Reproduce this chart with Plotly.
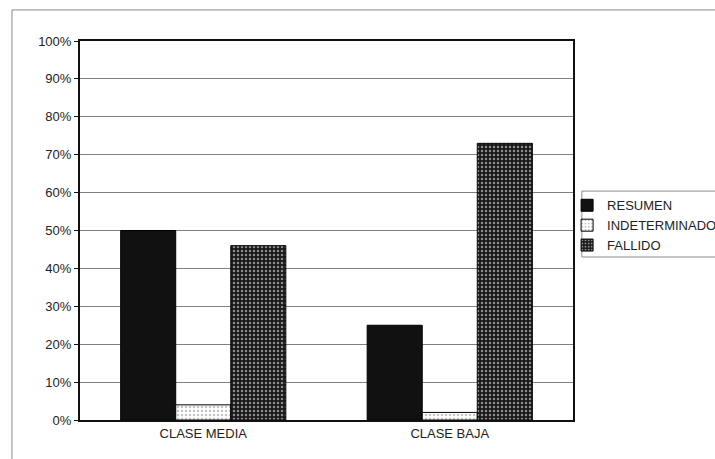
import plotly.graph_objects as go

categories = ["CLASE MEDIA", "CLASE BAJA"]
resumen = [50, 25]
indeterminado = [4, 2]
fallido = [46, 73]
tick_vals = [0, 10, 20, 30, 40, 50, 60, 70, 80, 90, 100]
tick_text = [f"{v}%" for v in tick_vals]

fig = go.Figure()
fig.add_trace(go.Bar(
    x=categories, y=resumen, name="RESUMEN",
    marker=dict(color="#111111", line=dict(color="#000000", width=1)),
))
fig.add_trace(go.Bar(
    x=categories, y=indeterminado, name="INDETERMINADO",
    marker=dict(color="#ffffff", line=dict(color="#000000", width=1),
                pattern=dict(shape=".", fgcolor="#888888", bgcolor="#ffffff",
                             size=4, solidity=0.3)),
))
fig.add_trace(go.Bar(
    x=categories, y=fallido, name="FALLIDO",
    marker=dict(color="#222222", line=dict(color="#000000", width=1),
                pattern=dict(shape=".", fgcolor="#ffffff", bgcolor="#1a1a1a",
                             size=4, solidity=0.3)),
))

fig.update_layout(
    width=715, height=459,
    margin=dict(l=80, r=142, t=41, b=39, autoexpand=False),
    paper_bgcolor="#ffffff", plot_bgcolor="#ffffff",
    barmode="group", bargap=0.33, bargroupgap=0,
    font=dict(family="Arial, Liberation Sans, sans-serif", size=13, color="#222222"),
    showlegend=True,
    legend=dict(
        x=0.988, y=0.606, xanchor="left", yanchor="top",
        borderwidth=0, bgcolor="rgba(0,0,0,0)",
        font=dict(size=13, color="#222222"),
        itemwidth=30, tracegroupgap=0,
    ),
    shapes=[
        dict(type="rect", xref="paper", yref="paper",
             x0=-0.138, x1=1.35, y0=-0.2, y1=1.082,
             line=dict(color="#8a8a8a", width=1), layer="below"),
        dict(type="rect", xref="paper", yref="paper",
             x0=1.018, x1=1.35, y0=0.430, y1=0.604,
             line=dict(color="#8a8a8a", width=1), layer="below"),
    ],
)
fig.update_yaxes(
    range=[0, 100], tickvals=tick_vals, ticktext=tick_text,
    showgrid=True, gridcolor="#808080", gridwidth=1,
    showline=True, linecolor="#111111", linewidth=2, mirror=True,
    ticks="outside", ticklen=4, tickcolor="#111111",
    zeroline=False, fixedrange=True,
)
fig.update_xaxes(
    showline=True, linecolor="#111111", linewidth=2, mirror=True,
    ticks="", showgrid=False, fixedrange=True,
)

fig.write_html("out.html")
